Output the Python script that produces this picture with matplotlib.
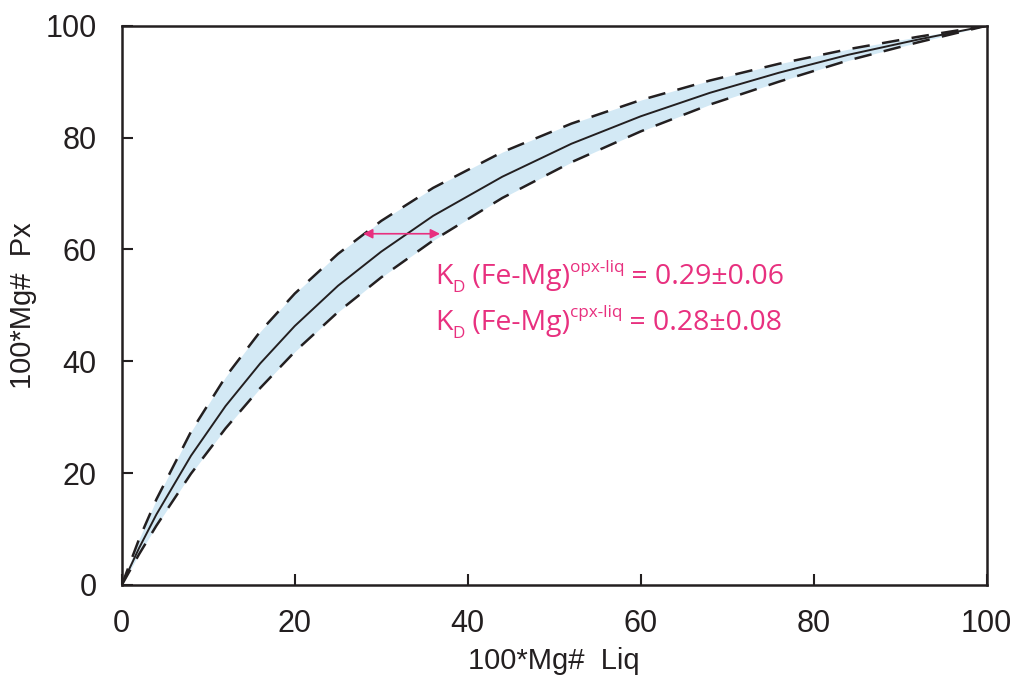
import matplotlib
matplotlib.use('Agg')
from matplotlib import pyplot as plt
from matplotlib import transforms

# values (100*Mg#)
mg_liq = [0, 2, 4, 8, 12, 16, 20, 25, 30, 36, 44, 52, 60, 68, 76, 84, 92, 100]
px_mid = [0, 6.6, 12.6, 23.1, 32.0, 39.6, 46.3, 53.5, 59.6, 66.0, 73.0, 78.9, 83.8, 88.0, 91.6, 94.8, 97.5, 100]
px_upper = [0, 8.2, 15.3, 27.4, 37.2, 45.3, 52.1, 59.2, 65.1, 71.0, 77.4, 82.5, 86.7, 90.2, 93.2, 95.8, 98.0, 100]
px_lower = [0, 5.5, 10.6, 19.9, 28.0, 35.2, 41.7, 48.8, 55.0, 61.6, 69.2, 75.6, 81.1, 85.9, 90.0, 93.8, 97.0, 100]

arrow_y = 62.8
arrow_x = (27.9, 36.8)

lines_txt = [
    [("K", 0), ("D", -1), (" (Fe-Mg)", 0), ("opx-liq", 1), (" = 0.29\u00b10.06", 0)],
    [("K", 0), ("D", -1), (" (Fe-Mg)", 0), ("cpx-liq", 1), (" = 0.28\u00b10.08", 0)],
]

pink = '#E8307F'
ink = '#231F20'

plt.rcParams['font.family'] = ['Liberation Sans', 'DejaVu Sans']

fig = plt.figure(figsize=(10.15, 6.77), dpi=100)
ax = fig.add_axes([0.120, 0.136, 0.852, 0.826])

ax.fill_between(mg_liq, px_lower, px_upper, color='#D3E9F5', lw=0)
ax.plot(mg_liq, px_upper, color=ink, lw=1.8, dashes=(7, 5))
ax.plot(mg_liq, px_lower, color=ink, lw=1.8, dashes=(7, 5))
ax.plot(mg_liq, px_mid, color=ink, lw=1.4)

ax.annotate('', xy=(arrow_x[0], arrow_y), xytext=(arrow_x[1], arrow_y),
            arrowprops=dict(arrowstyle='<|-|>', color=pink, lw=1.2, mutation_scale=14,
                            shrinkA=0, shrinkB=0))

ax.set_xlim(0, 100)
ax.set_ylim(0, 100)
ax.set_xticks(range(0, 101, 20))
ax.set_yticks(range(0, 101, 20))
ax.tick_params(direction='in', length=8, width=1.5, labelsize=22, colors=ink)
ax.tick_params(axis='x', pad=17)
ax.tick_params(axis='y', pad=18)
for s in ax.spines.values():
    s.set_linewidth(1.8)
    s.set_color(ink)
ax.set_xlabel("100*Mg#  Liq", fontsize=21, labelpad=6, color=ink)
ax.set_ylabel("100*Mg#  Px", fontsize=21, labelpad=6, color=ink)

# pieced text with sub/superscripts
renderer = fig.canvas.get_renderer()
base_size = 20.5
for i, parts in enumerate(lines_txt):
    x0, y0 = 36.2, 53.8 - i * 8.2
    dx = 0
    for txt, kind in parts:
        size = base_size if kind == 0 else base_size * 0.6
        dy = {0: 0, -1: -6, 1: 9}[kind]
        tr = transforms.offset_copy(ax.transData, fig=fig, x=dx, y=dy, units='points')
        t = ax.text(x0, y0, txt, transform=tr, fontsize=size, color=pink,
                    family=['Open Sans', 'DejaVu Sans'], va='baseline', ha='left')
        dx += t.get_window_extent(renderer).width * 72 / fig.dpi

fig.savefig('out.png', dpi=100)
